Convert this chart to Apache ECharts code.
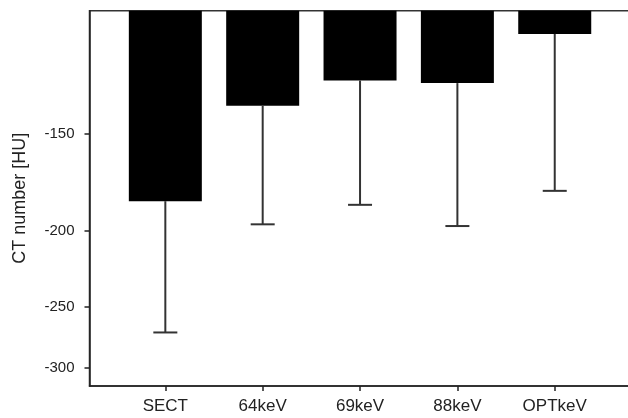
<!DOCTYPE html>
<html><head><meta charset="utf-8">
<script src="https://cdn.jsdelivr.net/npm/echarts@6/dist/echarts.min.js"></script>
<style>html,body{margin:0;padding:0;background:#fff}#c{width:628px;height:418px}</style>
</head><body><div id="c"></div>
<script>
const categories = ['SECT', '64keV', '69keV', '88keV', 'OPTkeV'];
const meanValues = [-183, -138, -128, -129, -111.5];
const errorValues = [-270, -196, -185, -197, -177.5];
const yTickValues = [-150, -200, -250, -300];
const yTop = -104.1, yBottom = -316.4;

const xMin = -0.779, xMax = -0.779 + 560 / 97.35;
const lineCol = '#222';
const font = 'Liberation Sans, Arial, sans-serif';

const chart = echarts.init(document.getElementById('c'), null, {renderer: 'canvas'});
chart.setOption({
  animation: false,
  backgroundColor: '#fff',
  grid: {left: 89.5, top: 10.7, width: 560, height: 375.3, show: true,
         outerBoundsMode: 'none', containLabel: false,
         borderColor: '#333', borderWidth: 1.5, backgroundColor: 'transparent'},
  xAxis: {
    type: 'value', min: xMin, max: xMax,
    axisLine: {show: true, onZero: false, lineStyle: {color: lineCol, width: 1.5}},
    axisTick: {show: true, customValues: categories.map((c, i) => i), length: 5,
               lineStyle: {color: lineCol, width: 1.5}},
    axisLabel: {customValues: categories.map((c, i) => i), margin: 12,
                formatter: v => categories[Math.round(v)], fontSize: 17,
                color: lineCol, fontFamily: font},
    splitLine: {show: false}
  },
  yAxis: [{
    type: 'log', logBase: 10, min: Math.abs(yTop), max: Math.abs(yBottom), inverse: true,
    axisLine: {show: true, onZero: false, lineStyle: {color: lineCol, width: 1.5}},
    axisTick: {show: false}, axisLabel: {show: false}, splitLine: {show: false}
  }, {
    type: 'value', position: 'left', inverse: true,
    min: Math.log10(Math.abs(yTop)), max: Math.log10(Math.abs(yBottom)),
    axisLine: {show: false, onZero: false},
    axisTick: {show: true, length: 5, customValues: yTickValues.map(v => Math.log10(Math.abs(v))),
               lineStyle: {color: lineCol, width: 1.5}},
    axisLabel: {customValues: yTickValues.map(v => Math.log10(Math.abs(v))), margin: 15,
                formatter: v => String(-Math.round(Math.pow(10, v))),
                fontSize: 15, color: lineCol, fontFamily: font},
    splitLine: {show: false},
    name: 'CT number [HU]', nameLocation: 'middle', nameGap: 60,
    nameTextStyle: {fontSize: 18, color: lineCol, fontFamily: font}
  }],
  series: [{
    type: 'bar', xAxisIndex: 0, yAxisIndex: 0, clip: true,
    data: categories.map((c, i) => [i, Math.abs(meanValues[i])]),
    barWidth: 73, itemStyle: {color: '#000'}
  }, {
    type: 'custom', xAxisIndex: 0, yAxisIndex: 0, z: 5,
    data: categories.map((c, i) => [i, Math.abs(meanValues[i]), Math.abs(errorValues[i])]),
    encode: {x: 0, y: [1, 2]},
    renderItem: (params, api) => {
      const p1 = api.coord([api.value(0), api.value(1)]);
      const p2 = api.coord([api.value(0), api.value(2)]);
      const st = {stroke: '#333', lineWidth: 2};
      return {type: 'group', children: [
        {type: 'line', shape: {x1: p1[0], y1: p1[1], x2: p2[0], y2: p2[1]}, style: st},
        {type: 'line', shape: {x1: p2[0] - 12, y1: p2[1], x2: p2[0] + 12, y2: p2[1]}, style: st}
      ]};
    }
  }]
});
</script></body></html>
